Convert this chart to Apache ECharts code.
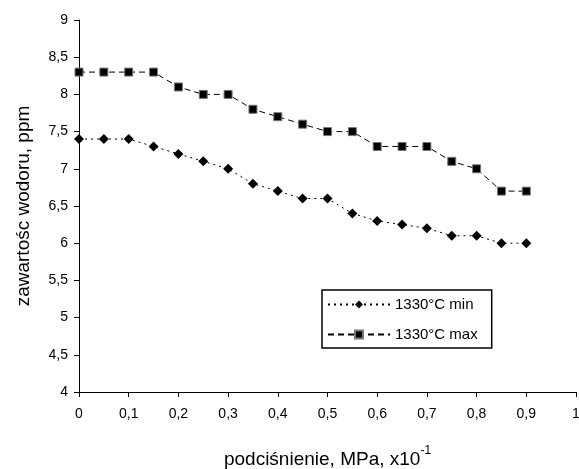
<!DOCTYPE html>
<html><head><meta charset="utf-8">
<script src="https://cdn.jsdelivr.net/npm/echarts@6/dist/echarts.min.js"></script>
<style>html,body{margin:0;padding:0;background:#fff}#c{width:579px;height:469px}</style>
</head><body><div id="c"></div>
<script>
const pressure = [0,0.05,0.1,0.15,0.2,0.25,0.3,0.35,0.4,0.45,0.5,0.55,0.6,0.65,0.7,0.75,0.8,0.85,0.9];
const minValues = [7.4,7.4,7.4,7.3,7.2,7.1,7.0,6.8,6.7,6.6,6.6,6.4,6.3,6.25,6.2,6.1,6.1,6.0,6.0];
const maxValues = [8.3,8.3,8.3,8.3,8.1,8.0,8.0,7.8,7.7,7.6,7.5,7.5,7.3,7.3,7.3,7.1,7.0,6.7,6.7];
const seriesNames = ['1330°C min','1330°C max'];
const fmt = v => String(parseFloat(v.toFixed(2))).replace('.', ',');
const font = 'Liberation Sans, Arial, sans-serif';
const chart = echarts.init(document.getElementById('c'), null, {renderer:'canvas'});
chart.setOption({
  backgroundColor:'#fff',
  animation:false,
  grid:{left:79,right:3,top:20,bottom:77,containLabel:false,outerBoundsMode:'none'},
  xAxis:{type:'value',min:0,max:1,interval:0.1,
    axisLine:{lineStyle:{color:'#000',width:1}},
    axisTick:{show:true,length:5,inside:false,lineStyle:{color:'#000'}},
    splitLine:{show:false},
    axisLabel:{color:'#000',fontFamily:font,fontSize:14,margin:15,formatter:fmt},
    name:'{a|podciśnienie, MPa, x10}{s|-1}',nameLocation:'middle',nameGap:53,
    nameTextStyle:{rich:{a:{fontFamily:font,fontSize:19,color:'#000',verticalAlign:'bottom'},s:{fontFamily:font,fontSize:12,color:'#000',verticalAlign:'top',padding:[0,0,12,0]}}}
  },
  yAxis:{type:'value',min:4,max:9,interval:0.5,
    axisLine:{show:true,lineStyle:{color:'#000',width:1}},
    axisTick:{show:true,length:5,lineStyle:{color:'#000'}},
    splitLine:{show:false},
    axisLabel:{color:'#000',fontFamily:font,fontSize:14,margin:11,formatter:fmt},
    name:'zawartośc wodoru, ppm',nameLocation:'middle',nameGap:46,
    nameTextStyle:{fontFamily:font,fontSize:19,color:'#000'}
  },
  legend:{show:true,orient:'vertical',left:322,top:290,
    padding:[7,14,6,5],itemGap:15,itemWidth:62,itemHeight:10,
    borderColor:'#000',borderWidth:1.5,
    textStyle:{fontFamily:font,fontSize:15,color:'#000'},
    data:seriesNames},
  series:[
    {name:seriesNames[0],type:'line',data:pressure.map((x,i)=>[x,minValues[i]]),
     symbol:'diamond',symbolSize:10,
     lineStyle:{color:'#000',width:1,type:[2,4]},
     itemStyle:{color:'#000'}},
    {name:seriesNames[1],type:'line',data:pressure.map((x,i)=>[x,maxValues[i]]),
     symbol:'rect',symbolSize:8,
     lineStyle:{color:'#000',width:1,type:[6,4]},
     itemStyle:{color:'#000',borderColor:'#777',borderWidth:1}}
  ]
});
</script></body></html>
